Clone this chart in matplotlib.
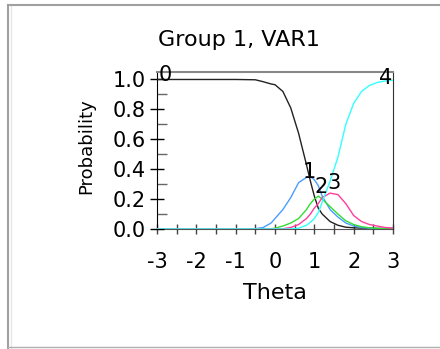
import numpy as np
import matplotlib
matplotlib.use('Agg')
from matplotlib import pyplot as plt
from matplotlib.lines import Line2D

# Category response curves
theta = [-3.0, -2.0, -1.0, -0.5, -0.3, -0.1, 0.0, 0.2, 0.4, 0.6, 0.8, 0.9,
         1.0, 1.1, 1.2, 1.4, 1.6, 1.8, 2.0, 2.2, 2.4, 2.6, 2.8, 3.0]
cat0 = [1.0, 1.0, 1.0, 0.998, 0.985, 0.97, 0.965, 0.92, 0.81, 0.64, 0.43, 0.32,
        0.22, 0.14, 0.10, 0.05, 0.025, 0.012, 0.008, 0.006, 0.005, 0.004, 0.004, 0.004]
cat1 = [0.0, 0.0, 0.0, 0.002, 0.01, 0.04, 0.07, 0.13, 0.21, 0.31, 0.345, 0.35,
        0.33, 0.29, 0.22, 0.13, 0.08, 0.04, 0.02, 0.01, 0.005, 0.003, 0.002, 0.001]
cat2 = [0.0, 0.0, 0.0, 0.0, 0.0, 0.002, 0.005, 0.02, 0.04, 0.07, 0.13, 0.17,
        0.20, 0.22, 0.20, 0.15, 0.10, 0.055, 0.03, 0.015, 0.008, 0.004, 0.002, 0.001]
cat3 = [0.0, 0.0, 0.0, 0.0, 0.0, 0.0, 0.0, 0.002, 0.01, 0.03, 0.07, 0.10,
        0.14, 0.17, 0.21, 0.24, 0.23, 0.17, 0.09, 0.05, 0.03, 0.02, 0.01, 0.006]
cat4 = [0.0, 0.0, 0.0, 0.0, 0.0, 0.0, 0.0, 0.0, 0.0, 0.005, 0.025, 0.045,
        0.07, 0.11, 0.18, 0.32, 0.48, 0.70, 0.84, 0.92, 0.96, 0.98, 0.99, 0.995]

curves = [cat0, cat1, cat2, cat3, cat4]
colors = ['#222222', '#4a9cff', '#33dd33', '#ff3d9e', '#33ffff']
names = ['0', '1', '2', '3', '4']
# where each category number sits (theta, prob)
label_x = [-2.80, 0.865, 1.17, 1.50, 2.80]
label_y = [1.027, 0.38, 0.28, 0.307, 1.007]

fig = plt.figure(figsize=(4.4, 3.49), dpi=100)
plt.rcParams['font.family'] = 'DejaVu Sans'

ax = fig.add_axes([157/440, 120/349, 236/440, 157/349])
for c, col in zip(curves, colors):
    ax.plot(theta, c, color=col, lw=1.0, zorder=3)
for n, lx, ly in zip(names, label_x, label_y):
    ax.text(lx, ly, n, ha='center', va='center', fontsize=15, color='black', zorder=5)

ax.set_xlim(-3, 3)
ax.set_ylim(0, 1.05)
ax.set_xticks(np.arange(-3, 4, 1))
ax.set_xticklabels(['-3', '-2', '-1', '0', '1', '2', '3'])
ax.set_xticks(np.arange(-2.5, 3, 1), minor=True)
ax.set_yticks(np.arange(0, 1.01, 0.2))
ax.set_yticklabels(['0.0', '0.2', '0.4', '0.6', '0.8', '1.0'])
ax.set_yticks(np.arange(0.1, 1.0, 0.2), minor=True)

ax.tick_params(axis='x', which='both', direction='inout', length=7, width=1,
               color='#444444', labelsize=15, pad=13)
ax.tick_params(axis='y', which='major', direction='inout', length=10, width=1,
               color='black', labelsize=15, pad=3)
ax.tick_params(axis='y', which='minor', direction='in', length=7, width=1, color='#666666')

ax.spines['left'].set_color('black')
ax.spines['top'].set_color('#888888')
ax.spines['top'].set_linewidth(1.5)
ax.spines['right'].set_color('#333333')
ax.spines['bottom'].set_color('#555555')
ax.spines['bottom'].set_zorder(1)

fig.text(239/440, 1 - 40/349, 'Group 1, VAR1', ha='center', va='center', fontsize=16)
fig.text(275/440, 1 - 293/349, 'Theta', ha='center', va='center', fontsize=16)
fig.text(86/440, 1 - 146/349, 'Probability', ha='center', va='center',
         rotation=90, fontsize=13)

# outer frame of the panel
fig.add_artist(Line2D([8/440, 8/440], [0, 1 - 5/349], transform=fig.transFigure,
                      color='#a0a0a0', lw=1.5))
fig.add_artist(Line2D([11/440, 11/440], [0, 1 - 6/349], transform=fig.transFigure,
                      color='#e6e6e6', lw=1))
fig.add_artist(Line2D([8/440, 1], [1 - 5/349, 1 - 5/349], transform=fig.transFigure,
                      color='#a0a0a0', lw=1.5))
fig.add_artist(Line2D([8/440, 1], [2/349, 2/349], transform=fig.transFigure,
                      color='#b0b0b0', lw=1))

fig.savefig('out.png', dpi=100)
